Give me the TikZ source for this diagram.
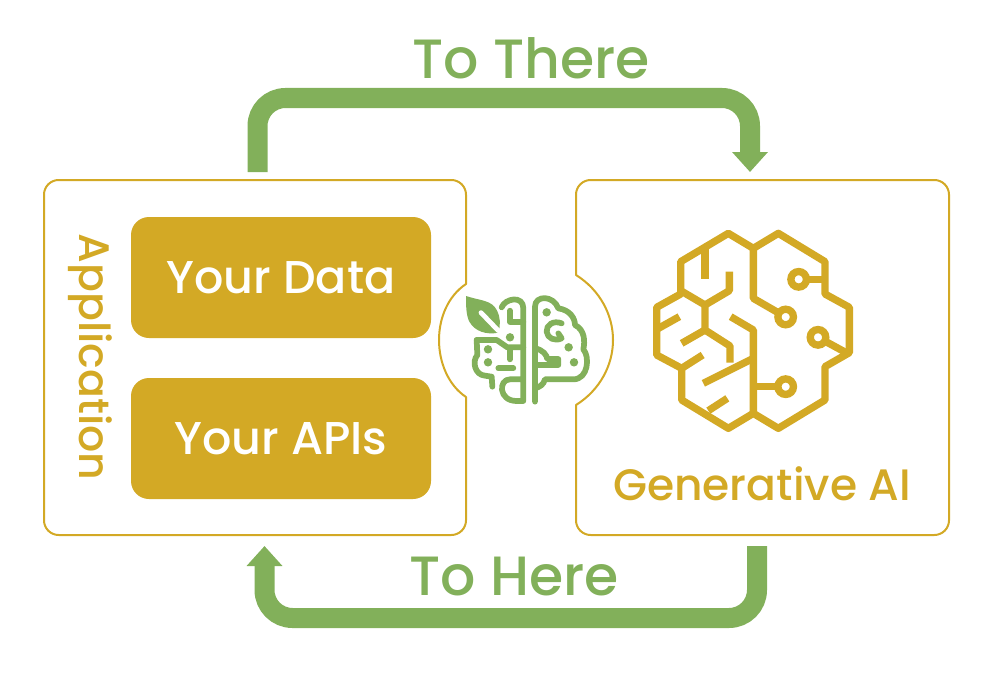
\documentclass[tikz,border=0pt]{standalone}
\usepackage{fontspec}
\setmainfont{Poppins Medium}
\usetikzlibrary{arrows.meta,positioning,calc}
\definecolor{gold}{RGB}{211,169,37}
\definecolor{leaf}{RGB}{130,176,90}
\begin{document}
\begin{tikzpicture}[x=0.75pt, y=-0.75pt,
  frame/.style={draw=gold, line width=1.5pt, fill=white, line join=round},
  card/.style={fill=gold, rounded corners=13.5pt, text=white, minimum width=225pt, minimum height=90.75pt, inner sep=0pt, font=\fontsize{34.5}{40}\selectfont},
  flow/.style={draw=leaf, line width=15pt, rounded corners=21pt, -{Triangle[length=15pt, width=26pt]}},
  flowtext/.style={text=leaf, font=\fontsize{41.5}{48}\selectfont, inner sep=0pt},
  goldtext/.style={text=gold, font=\fontsize{33}{38}\selectfont, inner sep=0pt},
  wire/.style={draw=gold, line width=5.5pt, line join=round, line cap=butt},
  ring/.style={draw=gold, line width=5.5pt, fill=white},
  twig/.style={draw=leaf, line width=4.3pt, line join=round, line cap=round},
  speck/.style={fill=leaf}]
\useasboundingbox (0,0) rectangle (992,674);
% boxes with the notch between them
\draw[frame] (466,284) -- (466,250) [rounded corners=11pt] -- (466,180) -- (44,180) -- (44,535) -- (466,535) -- (466,500) [sharp corners] -- (466,397) .. controls (448,385) and (439,362) .. (439,340) .. controls (439,318) and (448,296) .. (466,284) -- cycle;
\draw[frame] (576,275) -- (576,250) [rounded corners=11pt] -- (576,180) -- (949,180) -- (949,535) -- (576,535) -- (576,500) [sharp corners] -- (576,405) .. controls (600,390) and (613,365) .. (613,340) .. controls (613,315) and (600,290) .. (576,275) -- cycle;
\foreach \n/\y/\t in {data/277.5/Your Data, apis/438.5/Your APIs}
  { \node[card] (\n) at (281,\y) {\t}; }
\node[goldtext, rotate=-90, font=\fontsize{32}{38}\selectfont] (application) at (90,357) {Application};
\node[goldtext] (generative) at (762,484) {Generative AI};
% connectors
\coordinate (appTop) at (257.5,172);
\coordinate (aiTop) at (750,172);
\coordinate (aiBottom) at (757,546);
\coordinate (appBottom) at (264.5,546);
\draw[flow] (appTop) -- (257.5,98) -- (750,98) -- (aiTop);
\draw[flow] (aiBottom) -- (757,618) -- (264.5,618) -- (appBottom);
\node[flowtext] (there) at (531,58) {To There};
\node[flowtext] (here) at (514,577) {To Here};
% big chip brain, in units of a third of a pixel
\begin{scope}[shift={(640,220)}, scale=1/3]
  \draw[wire] (340,85) -- (265,40) -- (122,125) -- (122,222) -- (50,262) -- (50,405) -- (125,445) -- (125,540) -- (265,625) -- (340,580) -- (415,625) -- (555,540) -- (555,440) -- (628,398) -- (628,262) -- (555,222) -- (555,125) -- (415,40) -- cycle;
  \draw[wire] (340,85) -- (340,235) -- (437,291);
  \draw[wire] (340,580) -- (340,330) -- (272,290);
  \draw[wire] (340,415) -- (190,490);
  \draw[wire] (122,212) -- (195,255) -- (268,212) -- (268,155);
  \draw[wire] (195,80) -- (195,178);
  \draw[wire] (195,255) -- (195,330) -- (270,378) -- (270,428);
  \draw[wire] (195,330) -- (125,370);
  \draw[wire] (50,328) -- (118,290);
  \draw[wire] (125,445) -- (188,405);
  \draw[wire] (205,572) -- (262,535);
  \draw[wire] (476,178) -- (555,178);
  \draw[wire] (534,352) -- (622,400);
  \draw[wire] (437,500) -- (340,500);
  \foreach \x/\y in {437/291, 476/178, 534/352, 437/500}
    { \draw[ring] (\x,\y) circle[radius=17.5pt]; }
\end{scope}
% small leaf brain, same units
\begin{scope}[shift={(430,260)}, scale=1/3]
  \fill[leaf] (108,108) .. controls (150,122) and (185,120) .. (200,150) .. controls (212,172) and (212,195) .. (205,218) .. controls (170,225) and (135,215) .. (118,185) .. controls (108,165) and (108,135) .. (108,108) -- cycle;
  \draw[white, line width=3.6pt, line cap=round] (153,158) -- (205,212);
  \draw[twig] (215,142) .. controls (225,115) and (280,105) .. (280,145) -- (280,423) -- (260,423) .. controls (205,423) and (205,358) .. (240,358) -- (280,358);
  \draw[twig] (240,152) -- (240,185) -- (280,185);
  \draw[twig] (140,240) -- (200,240) -- (232,262) -- (280,262);
  \draw[twig] (140,240) -- (142,285) .. controls (125,305) and (135,345) .. (165,347) -- (185,350) -- (187,380);
  \draw[twig] (205,325) -- (250,325);
  \draw[twig] (240,270) -- (240,298);
  \draw[twig] (315,425) -- (315,140) .. controls (315,105) and (370,105) .. (385,145) .. controls (420,150) and (435,175) .. (435,195) .. controls (465,210) and (465,245) .. (460,268) .. controls (480,290) and (475,358) .. (430,358) -- (345,358) .. controls (340,375) and (330,380) .. (315,385);
  \draw[twig] (315,265) .. controls (340,270) and (350,285) .. (352,297) -- (385,297) -- (385,315) -- (315,315);
  \draw[twig] (395,190) .. controls (370,180) and (348,195) .. (350,215) .. controls (352,235) and (375,245) .. (395,235) -- (385,220);
  \foreach \x/\y in {240/232, 174/268, 174/307, 350/157, 416/262, 432/307}
    { \fill[speck] (\x,\y) circle[radius=9.5pt]; }
\end{scope}
\end{tikzpicture}
\end{document}
